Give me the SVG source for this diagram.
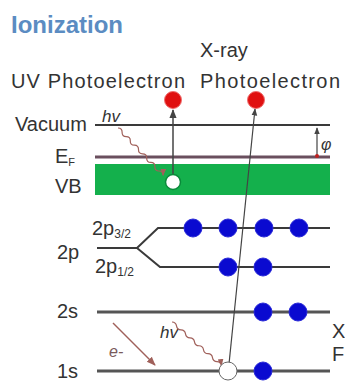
<svg xmlns="http://www.w3.org/2000/svg" width="345" height="383" viewBox="0 0 345 383">
<defs>
<style>
.t{font-family:"Liberation Sans",Arial,sans-serif;font-size:20px;fill:#333}
.it{font-style:italic}
.lvl{stroke:#3a3a3a;stroke-width:2;fill:none}
.thick{stroke:#555;stroke-width:3;fill:none}
.wave{stroke:#a0605a;stroke-width:1.2;fill:none}
.e{fill:#0a0ad0;stroke:#2a2ad8;stroke-width:1}
.ph{fill:#e01010;stroke:#f07070;stroke-width:1}
</style>
<marker id="ah" viewBox="0 0 10 10" refX="9" refY="5" markerWidth="6" markerHeight="6" orient="auto-start-reverse"><path d="M0,1 L10,5 L0,9 z" fill="#444"/></marker>
<marker id="ahr" viewBox="0 0 10 10" refX="9" refY="5" markerWidth="6" markerHeight="6" orient="auto"><path d="M0,1 L10,5 L0,9 z" fill="#a0605a"/></marker>
</defs>
<rect width="345" height="383" fill="#fff"/>
<text x="11" y="33" style="font-family:'Liberation Sans',Arial,sans-serif;font-size:24px;font-weight:bold;fill:#5b8cc2">Ionization</text>
<text class="t" x="200" y="57">X-ray</text>
<text class="t" x="11" y="88" textLength="174">UV Photoelectron</text>
<text class="t" x="200" y="88" textLength="140">Photoelectron</text>
<text class="t" x="15" y="131">Vacuum</text>
<text class="t" x="55" y="163">E<tspan font-size="11" dy="3">F</tspan></text>
<text class="t" x="55" y="193">VB</text>
<text class="t" x="57" y="259">2p</text>
<text class="t" x="92" y="235">2p<tspan font-size="12" dy="3">3/2</tspan></text>
<text class="t" x="95" y="273">2p<tspan font-size="12" dy="3">1/2</tspan></text>
<text class="t" x="57" y="318">2s</text>
<text class="t" x="57" y="378">1s</text>
<text class="t" x="332" y="338">X</text>
<text class="t" x="332" y="361">F</text>
<text class="t it" x="102" y="122" style="font-size:17px">hv</text>
<text class="t it" x="160" y="338" style="font-size:17px">hv</text>
<text class="t it" x="109" y="357" style="font-size:16px;fill:#7a5a5a">e-</text>
<text class="t it" x="321" y="150" style="font-size:16px">φ</text>
<g id="levels">
<line class="lvl" x1="95" y1="125" x2="330" y2="125"/>
<line x1="95" y1="157" x2="330" y2="157" stroke="#6a4f5e" stroke-width="3"/>
<rect x="95" y="164" width="235" height="31" fill="#14b04c"/>
<path class="lvl" d="M97,248 H137 L158,228 H330 M137,248 L160,267 H330"/>
<line class="thick" x1="97" y1="312" x2="330" y2="312"/>
<line class="thick" x1="97" y1="371" x2="330" y2="371"/>
</g>
<g id="connectors">
<line x1="173" y1="174" x2="173" y2="110" stroke="#444" stroke-width="1.5" marker-end="url(#ah)"/>
<line x1="229" y1="364" x2="255" y2="109" stroke="#444" stroke-width="1.2" marker-end="url(#ah)"/>
<line x1="317" y1="155" x2="317" y2="128" stroke="#444" stroke-width="1.2" marker-end="url(#ah)"/>
<circle cx="317" cy="156" r="2" fill="#c02020"/>
<path class="wave" marker-end="url(#ahr)" d="M118,128 q4.25,0.05 4.1,4.3 t4.1,4.3 t4.1,4.3 t4.1,4.3 t4.1,4.3 t4.1,4.3 t4.1,4.3 t4.1,4.3 t4.1,4.3 t4.1,4.3 t4.1,4.3"/>
<path class="wave" marker-end="url(#ahr)" d="M172,322 q3.9,0.1 4.5,3.96 t4.5,3.96 t4.5,3.96 t4.5,3.96 t4.5,3.96 t4.5,3.96 t4.5,3.96 t4.5,3.96 t4.5,3.96 t4.5,3.96 t4.5,3.96"/>
<line x1="113" y1="323" x2="155" y2="365" stroke="#a0605a" stroke-width="1.5" marker-end="url(#ahr)"/>
</g>
<g id="electrons">
<circle class="ph" cx="173" cy="100" r="8.5"/>
<circle class="ph" cx="256" cy="100" r="8.5"/>
<circle cx="173" cy="182" r="7.5" fill="#fff" stroke="#0a8a3a" stroke-width="1.5"/>
<circle class="e" cx="193" cy="228" r="9"/>
<circle class="e" cx="228" cy="228" r="9"/>
<circle class="e" cx="264" cy="228" r="9"/>
<circle class="e" cx="299" cy="228" r="9"/>
<circle class="e" cx="228" cy="267" r="9"/>
<circle class="e" cx="263" cy="267" r="9"/>
<circle class="e" cx="263" cy="312" r="9"/>
<circle class="e" cx="298" cy="312" r="9"/>
<circle class="e" cx="263" cy="371" r="9"/>
<circle cx="228" cy="371" r="9" fill="#fff" stroke="#666" stroke-width="1"/>
</g>
</svg>
